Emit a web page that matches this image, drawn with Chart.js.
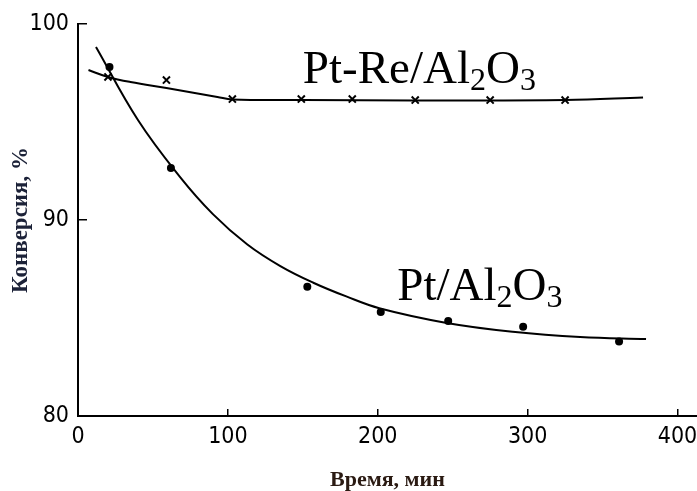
<!DOCTYPE html>
<html>
<head>
<meta charset="utf-8">
<script src="https://cdn.jsdelivr.net/npm/chart.js@4.4.1/dist/chart.umd.min.js"></script>
<style>
    html, body { margin: 0; padding: 0; background: #fff; overflow: hidden; }
    #wrap { width: 100vw; height: 100vh; position: relative; }
    canvas { display: block; }
</style>
</head>
<body>
<div id="wrap"><canvas id="chart"></canvas></div>
<script>
// measured points, time in min / conversion in %
const ptTimes = [21, 62, 153, 202, 247, 297, 361];
const ptValues = [97.8, 92.65, 86.6, 85.3, 84.85, 84.55, 83.8];
// fitted curve through the Pt/Al2O3 points
const ptCurveTimes = [12, 40, 68, 90, 113, 135, 157, 179, 201, 246, 290, 335, 379];
const ptCurveValues = [98.83, 95.1, 92.2, 90.3, 88.75, 87.65, 86.8, 86.1, 85.5, 84.75, 84.3, 84.03, 83.93];

const reTimes = [20, 59, 103, 149, 183, 225, 275, 325];
const reValues = [97.3, 97.14, 96.17, 96.17, 96.17, 96.12, 96.12, 96.12];
const reCurveTimes = [7, 20, 35, 59, 93, 103, 150, 225, 325, 377];
const reCurveValues = [97.65, 97.3, 97.04, 96.73, 96.28, 96.15, 96.12, 96.1, 96.12, 96.25];

const xTickValues = [0, 100, 200, 300, 400];
const yTickValues = [80, 90, 100];

const toXY = (xs, ys) => xs.map((x, i) => ({ x: x, y: ys[i] }));

const tickFont = { family: "'Liberation Sans Narrow', 'DejaVu Sans Condensed', 'Liberation Sans', sans-serif", size: 23 };

// formula labels with subscripts, placed in data coordinates
const formulaLabels = [
    { x: 150, y: 96.99, parts: [['Pt-Re/Al', 0], ['2', 1], ['O', 0], ['3', 1]] },
    { x: 213, y: 85.92, parts: [['Pt/Al', 0], ['2', 1], ['O', 0], ['3', 1]] }
];

const formulaPlugin = {
    id: 'formulaPlugin',
    afterDatasetsDraw(chart) {
        const ctx = chart.ctx;
        const xs = chart.scales.x, ys = chart.scales.y;
        ctx.save();
        ctx.fillStyle = '#000';
        ctx.textBaseline = 'alphabetic';
        ctx.textAlign = 'left';
        formulaLabels.forEach(lbl => {
            let px = xs.getPixelForValue(lbl.x);
            const py = ys.getPixelForValue(lbl.y);
            lbl.parts.forEach(([txt, sub]) => {
                ctx.font = (sub ? 32 : 47) + "px 'Liberation Serif', 'Times New Roman', serif";
                ctx.fillText(txt, px, py + (sub ? 7 : 0));
                px += ctx.measureText(txt).width;
            });
        });
        ctx.restore();
    }
};

new Chart(document.getElementById('chart'), {
    type: 'scatter',
    data: {
        datasets: [
            {
                data: toXY(ptTimes, ptValues),
                pointStyle: 'circle', pointRadius: 4,
                backgroundColor: '#000', borderColor: '#000', borderWidth: 0
            },
            {
                data: toXY(reTimes, reValues),
                pointStyle: 'crossRot', pointRadius: 5,
                borderColor: '#000', borderWidth: 2
            },
            {
                data: toXY(ptCurveTimes, ptCurveValues),
                showLine: true, pointRadius: 0, borderColor: '#000', borderWidth: 2,
                tension: 0.4
            },
            {
                data: toXY(reCurveTimes, reCurveValues),
                showLine: true, pointRadius: 0, borderColor: '#000', borderWidth: 2,
                tension: 0.4
            }
        ]
    },
    options: {
        responsive: true,
        maintainAspectRatio: false,
        animation: false,
        layout: { autoPadding: false, padding: { top: 24, right: 0, left: 0, bottom: 0 } },
        plugins: { legend: { display: false }, tooltip: { enabled: false } },
        scales: {
            x: {
                type: 'linear', min: 0, max: 413,
                afterBuildTicks: s => { s.ticks = xTickValues.map(v => ({ value: v })); },
                afterFit: s => { s.height = 75; s.paddingLeft = 0; s.paddingRight = 0; },
                ticks: { color: '#000', font: tickFont, padding: 14, maxRotation: 0 },
                grid: { drawOnChartArea: false, color: '#000', lineWidth: 1.5, tickLength: -7 },
                border: { color: '#000', width: 2 },
                title: {
                    display: true, text: 'Время, мин', color: '#2a1a12',
                    font: { family: "'Liberation Serif', 'Times New Roman', serif", size: 22, weight: 'bold' },
                    padding: { top: 0, bottom: -3 }
                }
            },
            y: {
                type: 'linear', min: 80, max: 100,
                afterBuildTicks: s => { s.ticks = yTickValues.map(v => ({ value: v })); },
                afterFit: s => { s.width = 78; s.paddingTop = 0; s.paddingBottom = 0; },
                ticks: { color: '#000', font: tickFont, padding: 18 },
                grid: { drawOnChartArea: false, color: '#000', lineWidth: 1.5, tickLength: -9 },
                border: { color: '#000', width: 2 },
                title: {
                    display: true, text: 'Конверсия, %', color: '#1c2238',
                    font: { family: "'Liberation Serif', 'Times New Roman', serif", size: 23, weight: 'bold' },
                    padding: { top: 7, bottom: 0 }
                }
            }
        }
    },
    plugins: [formulaPlugin]
});
</script>
</body>
</html>
